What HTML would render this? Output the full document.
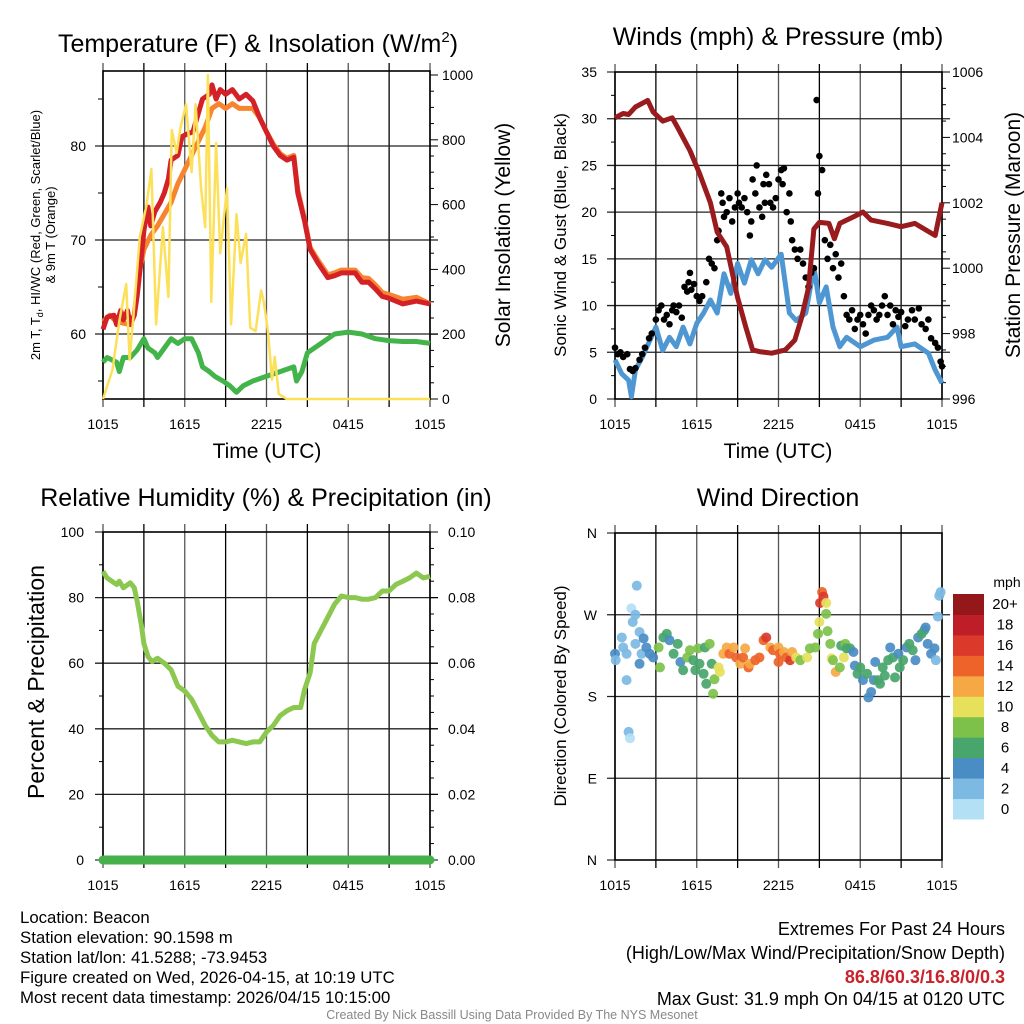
<!DOCTYPE html>
<html><head><meta charset="utf-8"><style>
html,body{margin:0;padding:0;background:#fff;}
svg{display:block;font-family:"Liberation Sans",Arial,sans-serif;}
</style></head><body>
<svg id="fig" width="1024" height="1024" viewBox="0 0 1024 1024" xmlns="http://www.w3.org/2000/svg"></svg>
<script>
// ---------- DATA ----------
const timeTicks = ["1015","1615","2215","0415","1015"];
// Panel 1
const tempHours = [0,0.3,0.8,1.0,1.3,1.5,1.8,2.0,2.3,2.5,2.8,3.0,3.3,3.5,3.8,4.2,4.5,4.8,5.0,5.5,5.8,6.2,6.6,7.0,7.3,7.8,8.0,8.3,8.6,9.0,9.5,10.0,10.5,11.0,11.5,12.0,12.5,13.0,13.5,14.0,14.3,14.8,15.2,15.8,16.5,17.0,17.5,18.5,19.0,19.5,20,20.5,21,22,23,24];
const tempValues = [60.5,61.8,62,61,62.5,61.5,62.5,61,62,64,68,71,73.5,71.5,73,74,75,76.5,78.5,79,81,81.3,81.5,83.5,85,85.5,86.5,85,86,85.5,86,85,85.5,84.8,83,81.5,80,79,78.5,78.8,75,72,69,67.5,66,66.2,66.5,66.5,65.5,65.5,64.8,64,63.8,63.2,63.5,63.2];
const t9Hours = [0,0.5,1.0,2.0,2.3,2.6,3.0,3.5,4.0,5.0,5.5,6.0,6.5,7.0,7.5,8.0,8.5,9,9.5,10,11,11.5,12,12.5,13,13.5,14,14.3,14.8,15.2,15.8,16.5,17,17.5,18.5,19,19.5,20,20.5,21,22,23,24];
const t9Values = [61.3,62,61.3,61,62,66,69,70.5,71.5,74,76,77.5,79,80.5,82,84,84.5,84,84.5,84,84,83,81.5,80.2,79.2,78.7,79,75.3,72.2,69.2,67.8,66.3,66.5,66.8,66.8,66,65.9,65.2,64.4,64.2,63.7,63.9,63.2];
const dewHours = [0,0.3,1.0,1.2,1.5,2,2.5,3.0,3.3,3.8,4.0,4.5,5.0,5.5,6.0,6.5,7.0,7.3,7.8,8.2,8.8,9.3,9.8,10.3,11,12,13,14,14.2,14.6,15,16,17,18,19,20,21,22,23,24];
const dewValues = [57,57.5,57,56,57.5,57.5,58.3,59.5,58.5,58,57.5,58.5,59.5,59,59.5,59.5,58,56.5,56,55.5,55,54.5,53.8,54.5,55,55.5,56,56.5,55,56,58,59,60,60.2,60,59.5,59.3,59.2,59.2,59];
const solarHours = [0,0.7,1.2,1.7,1.95,2.2,2.7,3.2,3.55,3.9,4.4,4.8,5.05,5.4,5.7,6.1,6.5,6.8,7.2,7.5,7.7,7.95,8.3,8.6,9.1,9.4,9.8,10.1,10.5,10.8,11.2,11.6,11.8,12.1,12.4,12.6,12.9,13.5,24];
const solarValues = [0,90,240,355,120,240,500,600,710,230,530,315,830,760,840,910,700,910,650,530,1000,300,790,450,650,230,570,420,510,220,210,335,300,210,60,130,15,0,0];
// Panel 2
const presHours = [0,0.6,1.0,1.5,2.4,2.8,3.5,4.2,4.6,5.5,6.2,7.0,7.5,8.2,9.0,9.6,10.1,10.6,11.5,12.5,13.2,13.7,14.2,14.6,15.0,15.7,16.1,16.5,17.5,18.2,18.8,20,21,22,23.5,24];
const presValues = [1004.6,1004.73,1004.7,1004.93,1005.13,1004.78,1004.5,1004.6,1004.3,1003.6,1002.9,1002.0,1001.1,1000.65,999.1,998.2,997.5,997.45,997.4,997.5,997.8,998.5,999.4,1001.2,1001.4,1001.37,1000.9,1001.37,1001.57,1001.72,1001.47,1001.37,1001.27,1001.37,1001.0,1002.0];
const windHours = [0,0.5,1.0,1.2,1.5,2.0,3.0,3.5,4.0,4.5,5.0,5.5,6.0,6.5,7.0,7.5,8.0,8.5,9.0,9.5,10,10.5,11,11.5,12.2,12.8,13.3,14,14.6,15,15.5,16,16.5,17,18,19,20,20.7,21,22,23,23.5,24];
const windValues = [4.2,2.7,2.0,0.25,3.1,4.5,7.7,5.2,6.6,5.6,7.7,5.9,8.1,9.2,10.6,9.2,13.4,11.3,14.5,12.4,14.9,13.4,14.9,14.1,15.5,9.2,8.4,9.2,14.1,10.3,12,7.7,5.6,6.6,5.6,6.3,6.6,7.7,5.6,5.9,4.9,3.1,1.7];
const gustHours = [0,0.2,0.4,0.6,0.9,1.1,1.3,1.5,1.8,2.0,2.2,2.5,2.7,3.0,3.2,3.4,3.6,3.8,4.0,4.2,4.3,4.5,4.7,4.9,5.1,5.3,5.4,5.5,5.6,5.8,6.0,6.2,6.4,6.7,6.9,7.1,7.3,7.5,7.6,7.8,7.9,8.0,8.2,8.4,8.6,8.8,9.0,9.1,9.3,9.5,9.7,9.9,10.0,10.1,10.3,10.4,10.6,10.8,10.9,11.0,11.1,11.3,11.4,11.6,11.8,12.0,12.2,12.3,12.4,12.6,12.8,12.9,13.0,13.2,13.4,13.6,13.8,14.0,14.2,14.4,14.6,14.8,14.9,15.0,15.2,15.4,15.6,15.8,16.0,16.2,16.4,16.6,16.8,17.0,17.2,17.4,17.6,17.8,18.0,18.2,18.4,18.6,18.8,19.0,19.2,19.4,19.6,19.8,20.0,20.2,20.4,20.6,20.8,21.0,21.3,21.5,21.8,22.0,22.3,22.5,22.8,23.0,23.2,23.5,23.7,23.9,24];
const gustValues = [5.5,4.8,5,4.5,4.8,3.2,3.0,3.3,4.2,4.8,5.5,6.5,7,8.5,9.5,10,8.5,9,8,9.5,10,9.3,10,8.7,12,11.5,12.5,13.5,11.7,12.3,11,10.5,11,12.5,15,14.5,14,17,18,22,21,19.5,20,21.5,19,20.5,22,21,20.5,21.5,20,17.5,19,23.5,22,25,20.5,19.5,23,21,24,23,21,20.5,21.5,23.5,24.5,23,24.7,20,22,19,17,16,15,16,14.5,13,12,13.5,14,32,22,26,24.5,17,15,16.5,14,15.5,13,14.5,11,9,8.5,9.5,7.5,8.5,9,8,7,9,10,9.5,8.5,9,10,11,9,10,8,9.5,8.8,9.3,7.8,8.5,9.5,8.5,9.7,8,7.5,8.5,6.5,6,5.5,4,3.5];
// Panel 3
const rhHours = [0,0.3,1,1.2,1.5,2,2.3,2.5,2.8,3.0,3.3,3.6,4.0,4.5,5.0,5.5,6.0,6.5,7.0,7.5,8.0,8.5,9,9.5,10,10.5,11,11.5,12,12.5,13,13.5,14,14.5,14.8,15.2,15.5,16,16.5,17,17.5,18,18.5,19,19.5,20,20.5,21,21.5,22,22.5,23,23.5,24];
const rhValues = [88,86,84,85,83,84.5,83,79,72,66,62,60.5,61.5,60,58,53,51.5,49,45,41,38,36,36,36.5,36,35.5,36,36,39,41,44,45.5,46.5,46.5,52,57,66,70,74,78,80.5,80,80,79.5,79.5,80,82,82,84,85,86,87.5,86,86.5];
const precipHours = [0,24];
const precipValues = [0,0];
// Panel 4
const dirHours = [0,0.05,0.5,0.6,0.85,0.85,1.0,1.1,1.2,1.3,1.5,1.6,1.5,1.8,1.8,1.95,2.1,2.3,2.55,2.8,3.2,3.3,3.55,3.8,4.0,4.3,4.6,4.8,5.0,5.3,5.5,5.75,5.9,6.1,6.2,6.5,6.6,6.7,6.95,7.1,7.2,7.3,7.6,7.7,7.95,8.2,8.4,8.7,8.9,9.2,9.4,9.55,9.8,9.9,10.3,10.6,10.9,11.1,11.4,11.6,12.0,12.0,12.1,12.4,12.6,12.85,13.0,13.3,13.6,14.1,14.3,14.7,14.9,15.0,15.05,15.2,15.3,15.5,15.5,15.6,15.8,15.9,16.0,16.2,16.5,16.6,16.8,16.9,17.0,17.25,17.5,17.6,17.8,18.0,18.2,18.5,18.6,18.8,19.0,19.1,19.3,19.45,19.65,19.8,20.05,20.2,20.4,20.55,20.8,20.9,21.15,21.4,21.6,21.85,22.05,22.25,22.5,22.7,22.8,22.95,23.2,23.45,23.55,23.7,23.8,23.9];
const dirValues = [227,220,245,234,227,198,141,134,277,262,270,302,238,251,216,227,244,234,227,223,234,212,245,249,242,227,238,218,209,223,231,220,209,233,216,205,234,194,238,216,183,199,212,207,227,234,227,234,223,216,223,233,212,216,220,223,242,245,234,231,234,218,227,229,223,220,229,223,220,223,233,234,249,262,283,295,290,283,271,252,238,222,220,207,212,236,223,238,233,233,229,214,205,212,198,205,179,185,198,218,198,194,212,203,220,234,223,201,227,212,220,234,238,231,220,245,249,253,256,238,227,233,220,268,291,295];
const dirSpeeds = [4,2,2,2,2,2,2,0,0,2,2,2,2,2,4,2,4,4,4,4,8,8,6,6,4,6,6,4,6,8,8,6,6,8,6,6,6,6,8,6,8,8,10,10,12,12,14,12,14,12,14,12,14,12,14,14,14,16,12,14,12,14,14,12,14,16,12,10,8,10,8,8,8,10,16,14,16,10,8,8,8,10,8,12,8,6,10,8,6,6,4,4,6,6,4,6,4,4,4,4,6,6,6,6,6,4,6,6,4,6,6,4,6,6,4,4,6,6,4,4,4,4,2,2,2,2];
const cbLabels = ["0","2","4","6","8","10","12","14","16","18","20+"];
const cbColors = ["#b3e0f5","#7cb9e3","#4a8cc4","#48a56b","#7dc14b","#e6e05b","#f5a843","#ee6329","#db3a2b","#be1e27","#94171a"];

// ---------- HELPERS ----------
const NS="http://www.w3.org/2000/svg";
const svg=document.getElementById('fig');
function mk(tag,attrs,parent){const e=document.createElementNS(NS,tag);for(const k in attrs)e.setAttribute(k,attrs[k]);(parent||svg).appendChild(e);return e;}
function txt(s,x,y,size,anchor,parent,extra){const e=mk('text',Object.assign({x:x,y:y,'font-size':size,'text-anchor':anchor||'middle',fill:'#000'},extra||{}),parent);e.textContent=s;return e;}
function lin(min,max,p0,p1){return v=>p0+(v-min)/(max-min)*(p1-p0);}
function pathD(xs,ys,fx,fy){return xs.map((h,i)=>(i?'L':'M')+fx(h).toFixed(1)+','+fy(ys[i]).toFixed(1)).join('');}

function frame(g,L,T,R,B,hLines){
  for(let i=0;i<=8;i++){const x=L+i*(R-L)/8;const l=mk('line',{x1:x,y1:T-8,x2:x,y2:B+8,stroke:(i%2? '#000':'#555'),'stroke-width':1.3},g);
    
    }
  hLines.forEach(y=>{const l=mk('line',{x1:L-8,y1:y,x2:R+8,y2:y,stroke:'#222','stroke-width':1.3},g);
    
    });
  const r=mk('rect',{x:L,y:T,width:R-L,height:B-T,fill:'none',stroke:'#000','stroke-width':1.6},g);
  
  
}
function xTicks(g,L,R,y){
  timeTicks.forEach((t,i)=>{const e=txt(t,L+i*(R-L)/4,y,14,'middle',g);
    
    });
}
function minorTicks(g,x,dir,ys,len){ys.forEach(y=>{const l=mk('line',{x1:x,y1:y,x2:x+dir*len,y2:y,stroke:'#000','stroke-width':1},g);
  
  });}

// ---------- PANEL 1 ----------
(function(){
  const L=103,R=430,T=71,B=399;
  const g=mk('g',{});
  const fx=lin(0,24,L,R), fy=lin(60,80,334,146), fs=lin(0,1000,399,75);
  const t=txt('Temperature (F) & Insolation (W/m',258,52,25,'middle',g);
  const sup=mk('tspan',{dy:-10,'font-size':15},t);sup.textContent='2';
  const cl=mk('tspan',{dy:10},t);cl.textContent=')';
  
  frame(g,L,T,R,B,[60,70,80].map(fy));
  minorTicks(g,L,-1,[55,65,75,85].map(fy),5);
  minorTicks(g,R,1,[0,200,400,600,800,1000].map(fs),8);
  minorTicks(g,R,1,[50,100,150,250,300,350,450,500,550,650,700,750,850,900,950].map(fs),4);
  [60,70,80].forEach(v=>{const e=txt(String(v),86,fy(v)+5,14,'end',g);});
  [0,200,400,600,800,1000].forEach(v=>{const e=txt(String(v),442,fs(v)+5,14,'start',g);});
  xTicks(g,L,R,429);
  const xt=txt('Time (UTC)',267,458,21,'middle',g);
  const yt=mk('g',{transform:'translate(40,235) rotate(-90)'},g);
  const a=txt('2m T, T',0,0,13,'middle',yt);const sb=mk('tspan',{dy:3,'font-size':9},a);sb.textContent='d';const rest=mk('tspan',{dy:-3},a);rest.textContent=', HI/WC (Red, Green, Scarlet/Blue)';
  txt('& 9m T (Orange)',0,15,13,'middle',yt);
  const yr=txt('Solar Insolation (Yellow)',0,0,21,'middle',g,{transform:'translate(510,235) rotate(-90)'});
  const p1=mk('path',{d:pathD(t9Hours,t9Values,fx,fy),fill:'none',stroke:'#f7842e','stroke-width':5,'stroke-linejoin':'round'},g);
  
  const p2=mk('path',{d:pathD(tempHours,tempValues,fx,fy),fill:'none',stroke:'#d42027','stroke-width':5,'stroke-linejoin':'round'},g);
  
  const p3=mk('path',{d:pathD(dewHours,dewValues,fx,fy),fill:'none',stroke:'#43b44a','stroke-width':5,'stroke-linejoin':'round'},g);
  
  const p4=mk('path',{d:pathD(solarHours,solarValues,fx,fs),fill:'none',stroke:'#fde05a','stroke-width':2.5,'stroke-linejoin':'round'},g);
  
})();

// ---------- PANEL 2 ----------
(function(){
  const L=615,R=942,T=72,B=399;
  const g=mk('g',{});
  const fx=lin(0,24,L,R), fy=lin(0,35,B,T), fp=lin(996,1006,B,T);
  const t=txt('Winds (mph) & Pressure (mb)',778,45,25,'middle',g);
  frame(g,L,T,R,B,[5,10,15,20,25,30].map(fy));
  minorTicks(g,L,-1,[0,35].map(fy),8);
  minorTicks(g,L,-1,[2.5,7.5,12.5,17.5,22.5,27.5,32.5].map(fy),4);
  const maj=[996,998,1000,1002,1004,1006];
  minorTicks(g,R,1,maj.map(fp),8);
  const mins=[];for(let v=996.5;v<1006;v+=0.5){if(Math.abs(v-Math.round(v/2)*2)>0.01)mins.push(v);}
  minorTicks(g,R,1,mins.map(fp),4);
  [0,5,10,15,20,25,30,35].forEach(v=>{const e=txt(String(v),597,fy(v)+5,14,'end',g);});
  maj.forEach(v=>{const e=txt(String(v),952,fp(v)+5,14,'start',g);});
  xTicks(g,L,R,429);
  const xt=txt('Time (UTC)',778,458,21,'middle',g);
  const yl=txt('Sonic Wind & Gust (Blue, Black)',0,0,17,'middle',g,{transform:'translate(566,235) rotate(-90)'});
  const yr=txt('Station Pressure (Maroon)',0,0,21,'middle',g,{transform:'translate(1020,235) rotate(-90)'});
  const w=mk('path',{d:pathD(windHours,windValues,fx,fy),fill:'none',stroke:'#4e97d2','stroke-width':5,'stroke-linejoin':'round'},g);
  
  gustHours.forEach((h,i)=>{const c=mk('circle',{cx:fx(h),cy:fy(gustValues[i]),r:3.3,fill:'#000'},g);
    
    });
  const p=mk('path',{d:pathD(presHours,presValues,fx,fp),fill:'none',stroke:'#991b1e','stroke-width':5,'stroke-linejoin':'round'},g);
  
})();

// ---------- PANEL 3 ----------
(function(){
  const L=103,R=430,T=532,B=860;
  const g=mk('g',{});
  const fx=lin(0,24,L,R), fy=lin(0,100,B,T), fr=lin(0,0.1,B,T);
  const t=txt('Relative Humidity (%) & Precipitation (in)',266,506,25,'middle',g);
  frame(g,L,T,R,B,[20,40,60,80].map(fy));
  minorTicks(g,L,-1,[0,100].map(fy),8);
  minorTicks(g,L,-1,[10,30,50,70,90].map(fy),4);
  minorTicks(g,R,1,[0,0.02,0.04,0.06,0.08,0.1].map(fr),8);
  const mins=[];for(let i=1;i<20;i++){if(i%4)mins.push(i*0.005);}
  minorTicks(g,R,1,mins.map(fr),4);
  [0,20,40,60,80,100].forEach(v=>{const e=txt(String(v),84,fy(v)+5,14,'end',g);});
  ["0.00","0.02","0.04","0.06","0.08","0.10"].forEach((s,i)=>{const e=txt(s,448,fr(i*0.02)+5,14,'start',g);});
  xTicks(g,L,R,890);
  const yl=txt('Percent & Precipitation',0,0,23,'middle',g,{transform:'translate(44,682) rotate(-90)'});
  const rh=mk('path',{d:pathD(rhHours,rhValues,fx,fy),fill:'none',stroke:'#8cc84f','stroke-width':5,'stroke-linejoin':'round'},g);
  
  const pr=mk('path',{d:pathD(precipHours,precipValues,fx,fr),fill:'none',stroke:'#46b04a','stroke-width':9,'stroke-linecap':'round'},g);
  
})();

// ---------- PANEL 4 ----------
(function(){
  const L=615,R=942,T=533,B=860;
  const g=mk('g',{});
  const fx=lin(0,24,L,R), fy=lin(0,360,B,T);
  const t=txt('Wind Direction',778,506,25,'middle',g);
  frame(g,L,T,R,B,[90,180,270].map(fy));
  minorTicks(g,L,-1,[0,360].map(fy),8);
  [["N",360],["W",270],["S",180],["E",90],["N",0]].forEach(a=>{const e=txt(a[0],597,fy(a[1])+5,14,'end',g);});
  xTicks(g,L,R,890);
  const yl=txt('Direction (Colored By Speed)',0,0,17,'middle',g,{transform:'translate(566,696) rotate(-90)'});
  dirHours.forEach((h,i)=>{const c=mk('circle',{cx:fx(h),cy:fy(dirValues[i]),r:5,fill:cbColors[Math.min(10,Math.floor(dirSpeeds[i]/2))],'fill-opacity':0.92},g);
    
    });
  const cb=mk('g',{},g);
  const top=594,bot=819,h=(bot-top)/11;
  cbColors.forEach((c,i)=>{const r=mk('rect',{x:953,y:bot-(i+1)*h,width:31,height:h+0.5,fill:c},cb);
    
    
    const e=txt(cbLabels[i],1005,bot-(i+0.5)*h+5,15,'middle',cb);
    
    });
  const u=txt('mph',1007,587,14,'middle',cb);
})();

// ---------- FOOTER ----------
(function(){
  const g=mk('g',{});
  const lines=["Location: Beacon","Station elevation: 90.1598 m","Station lat/lon: 41.5288; -73.9453","Figure created on Wed, 2026-04-15, at 10:19 UTC","Most recent data timestamp: 2026/04/15 10:15:00"];
  lines.forEach((s,i)=>{const e=txt(s,20,923+i*20,16.8,'start',g);});
  const g2=mk('g',{});
  const e1=txt('Extremes For Past 24 Hours',1005,935,18,'end',g2);
  const e2=txt('(High/Low/Max Wind/Precipitation/Snow Depth)',1005,959,18,'end',g2);
  const e3=txt('86.8/60.3/16.8/0/0.3',1005,983,18,'end',g2,{fill:'#c8232b','font-weight':'bold'});
  const e4=txt('Max Gust: 31.9 mph On 04/15 at 0120 UTC',1005,1005,18,'end',g2);
  const c=txt('Created By Nick Bassill Using Data Provided By The NYS Mesonet',512,1019,12.5,'middle',svg,{fill:'#888'});
  
})();
</script>
</body></html>
